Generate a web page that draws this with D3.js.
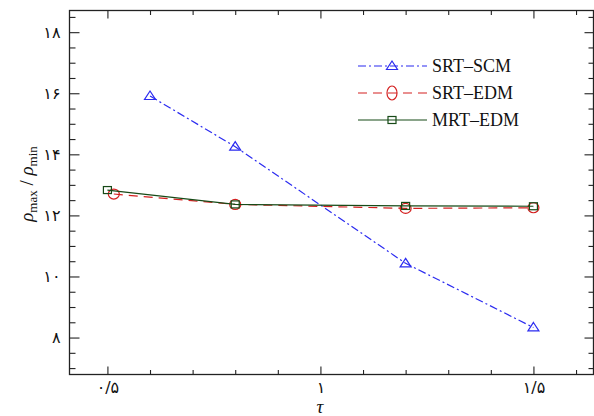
<!DOCTYPE html>
<html>
<head>
<meta charset="utf-8">
<script src="https://cdn.jsdelivr.net/npm/d3@7"></script>
<style>
  body { margin: 0; background: #fff; }
  svg { display: block; }
  .serif { font-family: "Liberation Serif", "DejaVu Serif", serif; }
</style>
</head>
<body>
<div id="chart"></div>
<script>
// data
const seriesNames = ['SRT\u2013SCM', 'SRT\u2013EDM', 'MRT\u2013EDM'];
const scmTau = [0.6, 0.8, 1.2, 1.5];
const scmVal = [15.91, 14.25, 10.43, 8.33];
const srtEdmTau = [0.515, 0.8, 1.2, 1.5];
const srtEdmVal = [12.70, 12.36, 12.23, 12.25];
const mrtEdmTau = [0.5, 0.8, 1.2, 1.5];
const mrtEdmVal = [12.83, 12.36, 12.31, 12.30];
const xMajorTicks = [0.5, 1, 1.5];
const yMajorTicks = [8, 10, 12, 14, 16, 18];

const W = 594, H = 416;
const margin = {top: 10.5, right: 0.5, bottom: 41.5, left: 69.5};

const x = d3.scaleLinear().domain([0.411, 1.641]).range([margin.left, W - margin.right]);
const y = d3.scaleLinear().domain([6.79, 18.71]).range([H - margin.bottom, margin.top]);

const xMinor = d3.range(5, 17).map(d => d / 10).filter(d => !xMajorTicks.includes(d));
const yMinor = d3.range(14, 38).map(d => d / 2).filter(d => !yMajorTicks.includes(d));

// persian digits, decimal point shown as slash
const fa = '۰۱۲۳۴۵۶۷۸۹';
const toFa = v => String(v).replace(/[0-9]/g, c => fa[+c]).replace('.', '/');

const svg = d3.select('#chart').append('svg')
	.attr('width', W)
	.attr('height', H);

const styles = [
	{name: seriesNames[0], tau: scmTau, val: scmVal, color: '#2b2bf0', dash: '8,3,2,3', marker: 'tri'},
	{name: seriesNames[1], tau: srtEdmTau, val: srtEdmVal, color: '#d42020', dash: '9,6', marker: 'circ'},
	{name: seriesNames[2], tau: mrtEdmTau, val: mrtEdmVal, color: '#174a17', dash: null, marker: 'sq'}
];

function drawAxis(axis, transform){
	const g = svg.append('g').attr('transform', transform).call(axis);
	g.select('.domain').remove();
	g.selectAll('.tick line').attr('stroke', '#222').attr('stroke-width', 1.1);
	return g;
}

// ticks on all four sides, pointing inward
const atBottom = `translate(0,${H - margin.bottom})`;
const atTop = `translate(0,${margin.top})`;
const atLeft = `translate(${margin.left},0)`;
const atRight = `translate(${W - margin.right},0)`;

drawAxis(d3.axisBottom(x).tickValues(xMinor).tickSize(-4.5).tickFormat(''), atBottom);
drawAxis(d3.axisTop(x).tickValues(xMinor).tickSize(-4.5).tickFormat(''), atTop);
drawAxis(d3.axisLeft(y).tickValues(yMinor).tickSize(-6).tickFormat(''), atLeft);
drawAxis(d3.axisRight(y).tickValues(yMinor).tickSize(-5).tickFormat(''), atRight);
drawAxis(d3.axisTop(x).tickValues(xMajorTicks).tickSize(-8).tickFormat(''), atTop);
drawAxis(d3.axisRight(y).tickValues(yMajorTicks).tickSize(-9).tickFormat(''), atRight);

const xg = drawAxis(d3.axisBottom(x).tickValues(xMajorTicks).tickSize(-8).tickPadding(7).tickFormat(toFa), atBottom);
xg.selectAll('text')
	.attr('font-family', 'DejaVu Sans')
	.attr('font-size', 16)
	.attr('fill', '#111');

const yg = drawAxis(d3.axisLeft(y).tickValues(yMajorTicks).tickSize(-10).tickPadding(9).tickFormat(toFa), atLeft);
yg.selectAll('text')
	.attr('font-family', 'DejaVu Sans')
	.attr('font-size', 16)
	.attr('fill', '#111');

// frame
svg.append('rect')
	.attr('x', margin.left)
	.attr('y', margin.top)
	.attr('width', W - margin.right - margin.left)
	.attr('height', H - margin.bottom - margin.top)
	.attr('fill', 'none')
	.attr('stroke', '#222')
	.attr('stroke-width', 1.3);

function marker(g, type, cx, cy, color, big){
	if (type == 'tri') {
		g.append('path')
			.attr('d', `M${cx},${cy - 5}L${cx + 5.5},${cy + 3.5}L${cx - 5.5},${cy + 3.5}Z`)
			.attr('fill', 'none').attr('stroke', color).attr('stroke-width', 1.2);
	}
	else if (type == 'circ') {
		g.append('ellipse')
			.attr('cx', cx).attr('cy', cy)
			.attr('rx', big ? 5 : 5.5).attr('ry', big ? 7 : 5)
			.attr('fill', 'none').attr('stroke', color).attr('stroke-width', 1.2);
	}
	else {
		g.append('rect')
			.attr('x', cx - 4).attr('y', cy - 3.5)
			.attr('width', 8).attr('height', 7)
			.attr('fill', 'none').attr('stroke', color).attr('stroke-width', 1.2);
	}
}

const line = d3.line().x(d => x(d[0])).y(d => y(d[1]));
const plot = svg.append('g');

styles.forEach(s => {
	const pts = d3.zip(s.tau, s.val);
	plot.append('path')
		.attr('d', line(pts))
		.attr('fill', 'none')
		.attr('stroke', s.color)
		.attr('stroke-width', 1.2)
		.attr('stroke-dasharray', s.dash);
	pts.forEach(p => marker(plot, s.marker, x(p[0]), y(p[1]), s.color, false));
});

// legend
const legend = svg.append('g');
styles.forEach((s, i) => {
	const ly = 66 + i * 27;
	legend.append('line')
		.attr('x1', 358).attr('x2', 427)
		.attr('y1', ly).attr('y2', ly)
		.attr('stroke', s.color)
		.attr('stroke-width', 1.2)
		.attr('stroke-dasharray', s.dash);
	marker(legend, s.marker, 392, ly, s.color, true);
	legend.append('text')
		.attr('class', 'serif')
		.attr('x', 432).attr('y', ly + 6)
		.attr('font-size', 18)
		.attr('fill', '#111')
		.text(s.name);
});

// axis titles
const yl = svg.append('text')
	.attr('class', 'serif')
	.attr('transform', 'translate(33,184) rotate(-90)')
	.attr('text-anchor', 'middle')
	.attr('font-size', 19)
	.attr('fill', '#111');
yl.append('tspan').attr('font-style', 'italic').text('ρ');
yl.append('tspan').attr('font-size', 13).attr('dy', 4).text('max');
yl.append('tspan').attr('dy', -4).text(' / ');
yl.append('tspan').attr('font-style', 'italic').text('ρ');
yl.append('tspan').attr('font-size', 13).attr('dy', 4).text('min');

svg.append('text')
	.attr('class', 'serif')
	.attr('x', 320).attr('y', 413)
	.attr('text-anchor', 'middle')
	.attr('font-style', 'italic')
	.attr('font-size', 19)
	.attr('fill', '#111')
	.text('τ');
</script>
</body>
</html>
